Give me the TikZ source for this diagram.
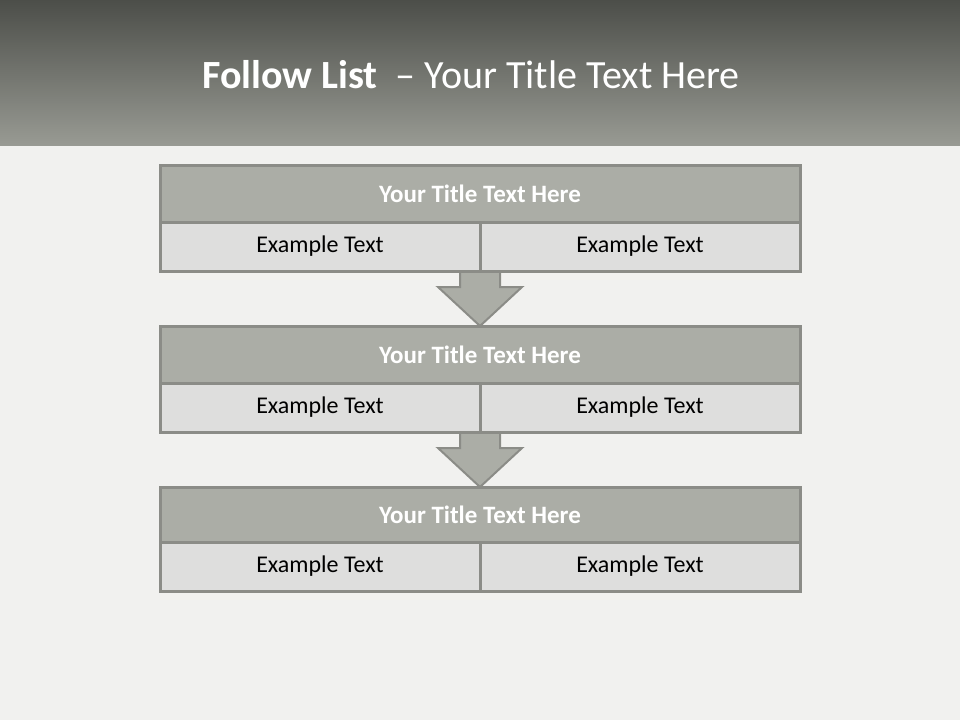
\documentclass[tikz,border=0pt]{standalone}
\usepackage{fontspec}
\setmainfont{Carlito}
\begin{document}
\begin{tikzpicture}[x=1pt,y=-1pt,
  titlecell/.style={draw=bordergray,line width=3pt,fill=titlegray,minimum width=640pt,minimum height=56pt,inner sep=0pt,text=white,font=\fontsize{25}{30}\selectfont\bfseries},
  textcell/.style={draw=bordergray,line width=3pt,fill=cellgray,minimum width=320pt,minimum height=49pt,inner sep=0pt,text=black,font=\fontsize{24}{29}\selectfont},
  blockarrow/.style={draw=bordergray,line width=2pt,fill=titlegray,line join=miter}
]
\definecolor{titlegray}{HTML}{ABADA6}
\definecolor{bordergray}{HTML}{8B8C87}
\definecolor{cellgray}{HTML}{DEDEDD}
\definecolor{bggray}{HTML}{F1F1EF}
\definecolor{hdrtop}{HTML}{4C4E49}
\definecolor{hdrbot}{HTML}{989A93}
\useasboundingbox (0,0) rectangle (960,720);
\fill[bggray] (0,0) rectangle (960,720);
\shade[top color=hdrtop,bottom color=hdrbot] (0,0) rectangle (960,145);
\node[text=white,font=\fontsize{40}{48}\selectfont] (title) at (471,75) {\textbf{Follow List} \ -- Your Title Text Here};

% arrows (drawn first, behind boxes)
\draw[blockarrow] (460,268) -- (500,268) -- (500,287) -- (522,287) -- (480,326) -- (438,287) -- (460,287) -- cycle;
\draw[blockarrow] (460,429) -- (500,429) -- (500,448) -- (522,448) -- (480,487) -- (438,448) -- (460,448) -- cycle;

% box 1
\node[titlecell,minimum height=57pt] (t1) at (480,193.5) {Your Title Text Here};
\node[textcell] (a1) at (320,246.5) {Example Text};
\node[textcell] (b1) at (640,246.5) {Example Text};
% box 2
\node[titlecell,minimum height=57pt] (t2) at (480,354.5) {Your Title Text Here};
\node[textcell] (a2) at (320,407.5) {Example Text};
\node[textcell] (b2) at (640,407.5) {Example Text};
% box 3
\node[titlecell,minimum height=55pt] (t3) at (480,514.5) {Your Title Text Here};
\node[textcell] (a3) at (320,566.5) {Example Text};
\node[textcell] (b3) at (640,566.5) {Example Text};
\end{tikzpicture}
\end{document}
